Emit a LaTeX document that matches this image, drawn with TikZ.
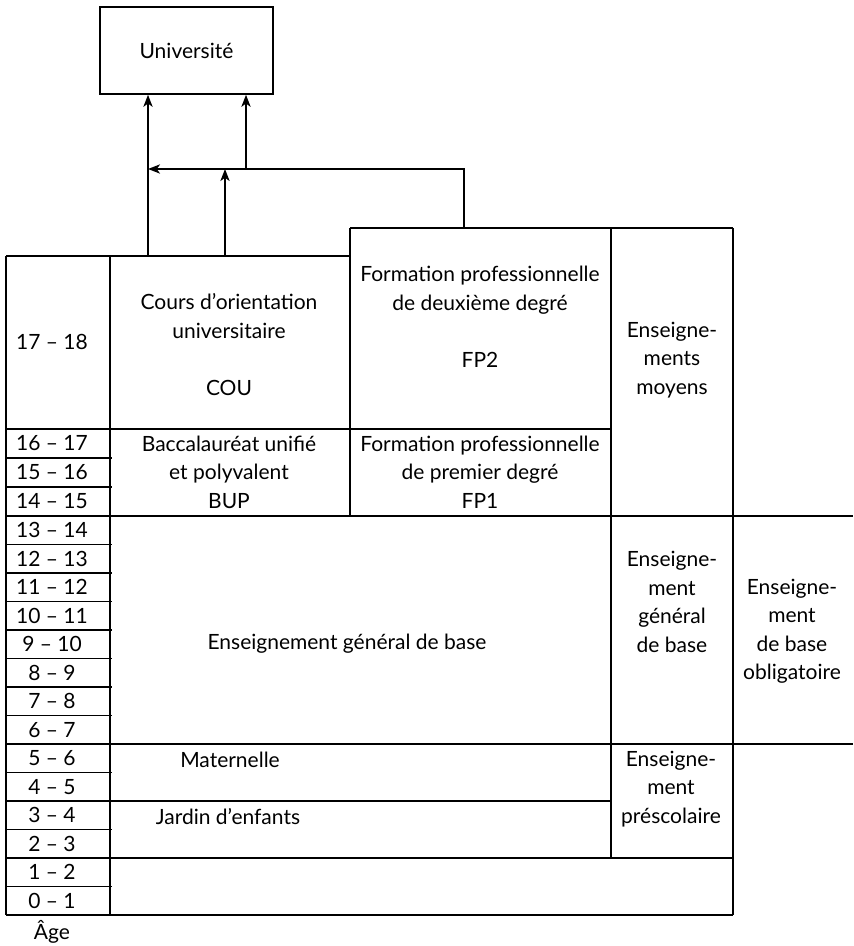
\documentclass[tikz,border=0pt]{standalone}
\usepackage{fontspec}
\setmainfont{Lato}
\usetikzlibrary{arrows.meta}
\tikzset{
  lbl/.style={align=center, inner sep=0pt},
  agelbl/.style={inner sep=0pt},
  arr/.style={-{Stealth[length=6pt,width=4.6pt,inset=1.6pt]}},
}

\begin{document}
\begin{tikzpicture}[x=0.5pt, y=-0.5pt, line width=0.8pt, font=\fontsize{10.5}{14.25}\selectfont]
\useasboundingbox (0,0) rectangle (853,946);
% university box
\node[draw, minimum width=86.5pt, minimum height=43.5pt, inner sep=0pt] (univ) at (186.5,50.5) {Université};
% outer frame and columns
\draw (6,256) -- (350,256);
\draw (350,228) -- (733,228);
\draw (6,256) -- (6,915);
\draw (110,256) -- (110,915);
\draw (350,228) -- (350,516);
\draw (611,228) -- (611,858);
\draw (733,228) -- (733,915);
% main horizontal rules
\draw (6,429) -- (611,429);
\draw (6,516) -- (853,516);
\draw (6,744) -- (853,744);
\draw (110,801) -- (611,801);
\draw (6,858) -- (733,858);
\draw (6,915) -- (733,915);
% short rules of the age column
\draw (6,458) -- (112,458);
\draw (6,487) -- (112,487);
\draw (6,544.5) -- (112,544.5);
\draw (6,573) -- (112,573);
\draw (6,601.5) -- (112,601.5);
\draw (6,630) -- (112,630);
\draw (6,658.5) -- (112,658.5);
\draw (6,687) -- (112,687);
\draw (6,715.5) -- (112,715.5);
\draw (6,772.5) -- (112,772.5);
\draw (6,801) -- (112,801);
\draw (6,829.5) -- (112,829.5);
\draw (6,886.5) -- (112,886.5);
% ages
\node[agelbl] (a17) at (52,342) {17 – 18};
\node[agelbl] (a16) at (52,443.5) {16 – 17};
\node[agelbl] (a15) at (52,472.5) {15 – 16};
\node[agelbl] (a14) at (52,501.5) {14 – 15};
\node[agelbl] (a13) at (52,530.25) {13 – 14};
\node[agelbl] (a12) at (52,558.75) {12 – 13};
\node[agelbl] (a11) at (52,587.25) {11 – 12};
\node[agelbl] (a10) at (52,615.75) {10 – 11};
\node[agelbl] (a9) at (52,644.25) {9 – 10};
\node[agelbl] (a8) at (52,672.75) {8 – 9};
\node[agelbl] (a7) at (52,701.25) {7 – 8};
\node[agelbl] (a6) at (52,729.75) {6 – 7};
\node[agelbl] (a5) at (52,758.25) {5 – 6};
\node[agelbl] (a4) at (52,786.75) {4 – 5};
\node[agelbl] (a3) at (52,815.25) {3 – 4};
\node[agelbl] (a2) at (52,843.75) {2 – 3};
\node[agelbl] (a1) at (52,872.25) {1 – 2};
\node[agelbl] (a0) at (52,900.75) {0 – 1};
\node[agelbl] (age) at (52,932) {Âge};
% cells
\node[lbl] (cou) at (229,344.5) {Cours d’orientation\\universitaire\\[14.25pt]COU};
\node[lbl] (fptwo) at (480,317) {Formation professionnelle\\de deuxième degré\\[14.25pt]FP2};
\node[lbl] (moyens) at (672,360) {Enseigne-\\ments\\moyens};
\node[lbl] (bup) at (229,472) {Baccalauréat unifié\\et polyvalent\\BUP};
\node[lbl] (fpone) at (480,472) {Formation professionnelle\\de premier degré\\FP1};
\node[lbl] (egb) at (347,644) {Enseignement général de base};
\node[lbl] (egbcol) at (672,602) {Enseigne-\\ment\\général\\de base};
\node[lbl] (obligatoire) at (792,631) {Enseigne-\\ment\\de base\\obligatoire};
\node[lbl] (maternelle) at (230,760) {Maternelle};
\node[lbl] (jardin) at (228,817) {Jardin d’enfants};
\node[lbl] (prescolaire) at (671,789) {Enseigne-\\ment\\préscolaire};
% paths to university
\coordinate (couL) at (148,256);
\coordinate (couR) at (225,256);
\coordinate (fpTop) at (464,228);
\coordinate (joinL) at (148,169);
\coordinate (joinR) at (246,169);
\coordinate (joinM) at (225,169);
\draw[arr] (couL) -- (univ.south -| couL);
\draw[arr] (joinR) -- (univ.south -| joinR);
\draw[arr] (couR) -- (joinM);
\draw[arr] (fpTop) |- (joinL);
\end{tikzpicture}
\end{document}
